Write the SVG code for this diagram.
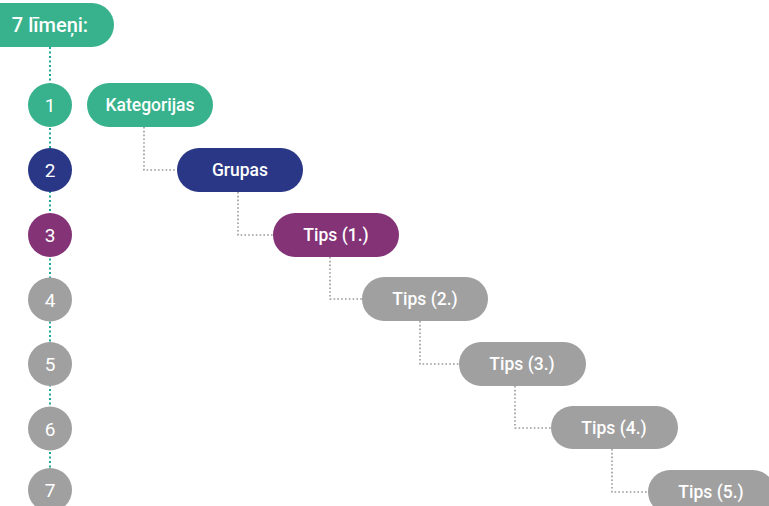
<svg xmlns="http://www.w3.org/2000/svg" width="769" height="506" viewBox="0 0 769 506">
<style>
.t{font-family:Roboto,"Open Sans","Liberation Sans",sans-serif;font-weight:500;fill:#fff;text-anchor:middle;font-size:17.5px}
.h{font-size:20px}
.n{font-size:19px;font-weight:400}
.green{fill:#38b28c}
.navy{fill:#293786}
.purple{fill:#833376}
.gray{fill:#a0a0a0}
.conn{fill:none;stroke:#9a9a9a;stroke-width:1.6;stroke-dasharray:1.6 2.2}
.tl{fill:none;stroke:#1aa89a;stroke-width:2;stroke-dasharray:2 2.5}
</style>
<rect width="769" height="506" fill="#fff"/>
<g id="connectors">
<line class="tl" x1="50" y1="47" x2="50" y2="500"/>
<path class="conn" d="M144 127 V170 H177"/>
<path class="conn" d="M238 192 V235 H273"/>
<path class="conn" d="M330 257 V299 H362"/>
<path class="conn" d="M420 321 V364 H459"/>
<path class="conn" d="M515 386 V428 H551"/>
<path class="conn" d="M612 449 V492 H648"/>
</g>
<g id="header">
<rect class="green" x="-20" y="3" width="134" height="44" rx="22"/>
<text class="t h" x="50" y="32">7 līmeņi:</text>
</g>
<g id="level1"><circle class="green" cx="50" cy="105" r="22"/><text class="t n" x="50" y="112">1</text></g>
<g id="level2"><circle class="navy" cx="50" cy="170" r="22"/><text class="t n" x="50" y="177">2</text></g>
<g id="level3"><circle class="purple" cx="50" cy="235" r="22"/><text class="t n" x="50" y="242">3</text></g>
<g id="level4"><circle class="gray" cx="50" cy="299.5" r="22"/><text class="t n" x="50" y="306.5">4</text></g>
<g id="level5"><circle class="gray" cx="50" cy="364" r="22"/><text class="t n" x="50" y="371">5</text></g>
<g id="level6"><circle class="gray" cx="50" cy="428.5" r="22"/><text class="t n" x="50" y="435.5">6</text></g>
<g id="level7"><circle class="gray" cx="50" cy="490" r="22"/><text class="t n" x="50" y="497">7</text></g>
<g id="kategorijas"><rect class="green" x="87" y="83" width="126" height="44" rx="22"/><text class="t" x="150" y="111">Kategorijas</text></g>
<g id="grupas"><rect class="navy" x="177" y="148" width="126" height="44" rx="22"/><text class="t" x="240" y="176">Grupas</text></g>
<g id="tips1"><rect class="purple" x="273" y="213" width="126" height="44" rx="22"/><text class="t" x="336" y="241">Tips (1.)</text></g>
<g id="tips2"><rect class="gray" x="362" y="277" width="126" height="44" rx="22"/><text class="t" x="425" y="305">Tips (2.)</text></g>
<g id="tips3"><rect class="gray" x="459" y="342" width="127" height="44" rx="22"/><text class="t" x="522" y="370">Tips (3.)</text></g>
<g id="tips4"><rect class="gray" x="551" y="406" width="127" height="43" rx="21.5"/><text class="t" x="614" y="434">Tips (4.)</text></g>
<g id="tips5"><rect class="gray" x="648" y="470" width="127" height="44" rx="22"/><text class="t" x="711" y="498">Tips (5.)</text></g>
</svg>
